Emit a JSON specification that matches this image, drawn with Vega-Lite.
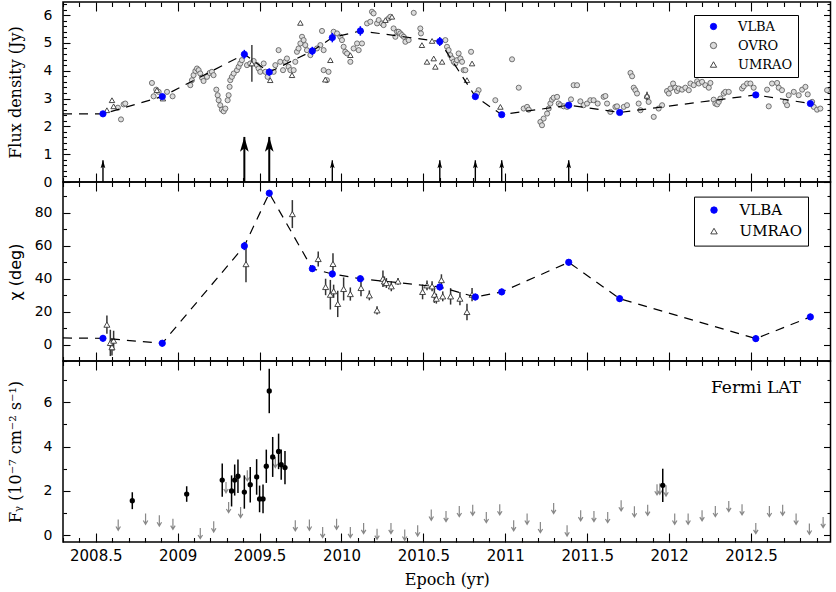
{
"$schema":"https://vega.github.io/schema/vega-lite/v6.json",
"padding":{"left":6,"top":0,"right":2,"bottom":2},
"background":"white",
"spacing":0,
"bounds":"flush",
"config":{"view":{"stroke":"#000","strokeWidth":1.5},"axis":{"labelColor":"#000","titleColor":"#000","tickColor":"#000","tickWidth":1.1,"domain":false,"grid":false}},
"resolve":{"scale":{"shape":"independent","fill":"independent","stroke":"independent"},"legend":{"shape":"independent","fill":"independent","stroke":"independent"}},
"vconcat":[
{
"width":767.5,"height":180,
"resolve":{"axis":{"x":"independent","y":"independent"}},
"encoding":{
 "x":{"field":"t","type":"quantitative","scale":{"domain":[2008.3,2012.985],"nice":false,"zero":false},"axis":null},
 "y":{"field":"v","type":"quantitative","scale":{"domain":[0,6.47],"nice":false,"zero":false},"axis":null}
},
"layer":[
 {"data":{"name":"fluxline"},"mark":{"type":"point","opacity":0},"encoding":{
   "x":{"field":"t","type":"quantitative","scale":{"domain":[2008.3,2012.985],"nice":false,"zero":false},"axis":{"orient":"bottom","values":[2008.5,2009,2009.5,2010,2010.5,2011,2011.5,2012,2012.5],"labels":false,"title":null,"tickSize":-9,"minExtent":0,"maxExtent":0}},
   "y":{"field":"v","type":"quantitative","scale":{"domain":[0,6.47],"nice":false,"zero":false},"axis":{"orient":"left","values":[0,1,2,3,4,5,6],"format":"d","ticks":false,"tickSize":0,"labelFont":"DejaVu Sans","labelFontSize":14,"labelPadding":11,"labelOverlap":false,"labelFlush":false,"title":"Flux density (Jy)","titleFont":"DejaVu Serif","titleFontSize":16,"titleFontWeight":"normal","titlePadding":12,"minExtent":28,"maxExtent":28}}}},
 {"data":{"name":"fluxline"},"mark":{"type":"point","opacity":0},"encoding":{
   "x":{"field":"t","type":"quantitative","scale":{"domain":[2008.3,2012.985],"nice":false,"zero":false},"axis":{"orient":"bottom","values":[2008.3,2008.4,2008.6,2008.7,2008.8,2008.9,2009.1,2009.2,2009.3,2009.4,2009.6,2009.7,2009.8,2009.9,2010.1,2010.2,2010.3,2010.4,2010.6,2010.7,2010.8,2010.9,2011.1,2011.2,2011.3,2011.4,2011.6,2011.7,2011.8,2011.9,2012.1,2012.2,2012.3,2012.4,2012.6,2012.7,2012.8,2012.9],"labels":false,"title":null,"tickSize":-4.5,"minExtent":0,"maxExtent":0}},
   "y":{"field":"v","type":"quantitative","scale":{"domain":[0,6.47],"nice":false,"zero":false},"axis":{"orient":"left","values":[0,1,2,3,4,5,6],"labels":false,"title":null,"tickSize":-7,"minExtent":0,"maxExtent":0}}}},
 {"data":{"name":"fluxline"},"mark":{"type":"point","opacity":0},"encoding":{
   "x":{"field":"t","type":"quantitative","scale":{"domain":[2008.3,2012.985],"nice":false,"zero":false},"axis":{"orient":"top","values":[2008.5,2009,2009.5,2010,2010.5,2011,2011.5,2012,2012.5],"labels":false,"title":null,"tickSize":-9,"minExtent":0,"maxExtent":0}},
   "y":{"field":"v","type":"quantitative","scale":{"domain":[0,6.47],"nice":false,"zero":false},"axis":{"orient":"left","values":[0.2,0.4,0.6,0.8,1.2,1.4,1.6,1.8,2.2,2.4,2.6,2.8,3.2,3.4,3.6,3.8,4.2,4.4,4.6,4.8,5.2,5.4,5.6,5.8,6.2,6.4],"labels":false,"title":null,"tickSize":-3.5,"minExtent":0,"maxExtent":0}}}},
 {"data":{"name":"fluxline"},"mark":{"type":"point","opacity":0},"encoding":{
   "x":{"field":"t","type":"quantitative","scale":{"domain":[2008.3,2012.985],"nice":false,"zero":false},"axis":{"orient":"top","values":[2008.3,2008.4,2008.6,2008.7,2008.8,2008.9,2009.1,2009.2,2009.3,2009.4,2009.6,2009.7,2009.8,2009.9,2010.1,2010.2,2010.3,2010.4,2010.6,2010.7,2010.8,2010.9,2011.1,2011.2,2011.3,2011.4,2011.6,2011.7,2011.8,2011.9,2012.1,2012.2,2012.3,2012.4,2012.6,2012.7,2012.8,2012.9],"labels":false,"title":null,"tickSize":-4.5,"minExtent":0,"maxExtent":0}},
   "y":{"field":"v","type":"quantitative","scale":{"domain":[0,6.47],"nice":false,"zero":false},"axis":{"orient":"right","values":[0,1,2,3,4,5,6],"labels":false,"title":null,"tickSize":-7,"minExtent":0,"maxExtent":0}}}},
 {"data":{"name":"fluxline"},"mark":{"type":"point","opacity":0},"encoding":{
   "y":{"field":"v","type":"quantitative","scale":{"domain":[0,6.47],"nice":false,"zero":false},"axis":{"orient":"right","values":[0.2,0.4,0.6,0.8,1.2,1.4,1.6,1.8,2.2,2.4,2.6,2.8,3.2,3.4,3.6,3.8,4.2,4.4,4.6,4.8,5.2,5.4,5.6,5.8,6.2,6.4],"labels":false,"title":null,"tickSize":-3.5,"minExtent":0,"maxExtent":0}}}},
 {"data":{"name":"ovro"},"mark":{"type":"point","filled":true,"strokeWidth":0.8,"size":26,"opacity":1},
  "encoding":{
   "shape":{"field":"src","type":"nominal","scale":{"domain":["VLBA","OVRO","UMRAO"],"range":["circle","circle","triangle-up"]},"legend":{"title":null,"orient":"none","legendX":631,"legendY":13,"strokeColor":"#000","fillColor":"#fff","padding":5,"symbolOffset":8,"labelFont":"DejaVu Serif","labelFontSize":13,"labelColor":"#000","symbolSize":40,"symbolStrokeWidth":0.9,"rowPadding":5,"labelOffset":18}},
   "fill":{"field":"src","type":"nominal","scale":{"domain":["VLBA","OVRO","UMRAO"],"range":["#0000ff","#dcdcdc","#ffffff"]},"legend":{"title":null,"orient":"none","legendX":631,"legendY":13,"strokeColor":"#000","fillColor":"#fff","padding":5,"symbolOffset":8,"labelFont":"DejaVu Serif","labelFontSize":13,"labelColor":"#000","symbolSize":40,"symbolStrokeWidth":0.9,"rowPadding":5,"labelOffset":18}},
   "stroke":{"field":"src","type":"nominal","scale":{"domain":["VLBA","OVRO","UMRAO"],"range":["#0000ff","#555555","#333333"]},"legend":{"title":null,"orient":"none","legendX":631,"legendY":13,"strokeColor":"#000","fillColor":"#fff","padding":5,"symbolOffset":8,"labelFont":"DejaVu Serif","labelFontSize":13,"labelColor":"#000","symbolSize":40,"symbolStrokeWidth":0.9,"rowPadding":5,"labelOffset":18}}
  }},
 {"data":{"name":"umrao_s"},"mark":{"type":"errorbar","color":"#222","thickness":1.3},"encoding":{"yError":{"field":"e"}}},
 {"data":{"name":"umrao_s"},"mark":{"type":"point","filled":true,"strokeWidth":0.9,"size":30,"opacity":1},
  "encoding":{
   "shape":{"field":"src","type":"nominal","scale":{"domain":["VLBA","OVRO","UMRAO"],"range":["circle","circle","triangle-up"]},"legend":{"title":null,"orient":"none","legendX":631,"legendY":13,"strokeColor":"#000","fillColor":"#fff","padding":5,"symbolOffset":8,"labelFont":"DejaVu Serif","labelFontSize":13,"labelColor":"#000","symbolSize":40,"symbolStrokeWidth":0.9,"rowPadding":5,"labelOffset":18}},
   "fill":{"field":"src","type":"nominal","scale":{"domain":["VLBA","OVRO","UMRAO"],"range":["#0000ff","#dcdcdc","#ffffff"]},"legend":{"title":null,"orient":"none","legendX":631,"legendY":13,"strokeColor":"#000","fillColor":"#fff","padding":5,"symbolOffset":8,"labelFont":"DejaVu Serif","labelFontSize":13,"labelColor":"#000","symbolSize":40,"symbolStrokeWidth":0.9,"rowPadding":5,"labelOffset":18}},
   "stroke":{"field":"src","type":"nominal","scale":{"domain":["VLBA","OVRO","UMRAO"],"range":["#0000ff","#555555","#333333"]},"legend":{"title":null,"orient":"none","legendX":631,"legendY":13,"strokeColor":"#000","fillColor":"#fff","padding":5,"symbolOffset":8,"labelFont":"DejaVu Serif","labelFontSize":13,"labelColor":"#000","symbolSize":40,"symbolStrokeWidth":0.9,"rowPadding":5,"labelOffset":18}}
  }},
 {"data":{"name":"fluxline"},"mark":{"type":"line","color":"#000","strokeWidth":1.2,"strokeDash":[9,7]}},
 {"data":{"name":"vlba_s"},"mark":{"type":"errorbar","color":"#0000ff","thickness":1.5},"encoding":{"yError":{"field":"e"}}},
 {"data":{"name":"vlba_s"},"mark":{"type":"point","filled":true,"strokeWidth":0.8,"size":40,"opacity":1},
  "encoding":{
   "shape":{"field":"src","type":"nominal","scale":{"domain":["VLBA","OVRO","UMRAO"],"range":["circle","circle","triangle-up"]},"legend":{"title":null,"orient":"none","legendX":631,"legendY":13,"strokeColor":"#000","fillColor":"#fff","padding":5,"symbolOffset":8,"labelFont":"DejaVu Serif","labelFontSize":13,"labelColor":"#000","symbolSize":40,"symbolStrokeWidth":0.9,"rowPadding":5,"labelOffset":18}},
   "fill":{"field":"src","type":"nominal","scale":{"domain":["VLBA","OVRO","UMRAO"],"range":["#0000ff","#dcdcdc","#ffffff"]},"legend":{"title":null,"orient":"none","legendX":631,"legendY":13,"strokeColor":"#000","fillColor":"#fff","padding":5,"symbolOffset":8,"labelFont":"DejaVu Serif","labelFontSize":13,"labelColor":"#000","symbolSize":40,"symbolStrokeWidth":0.9,"rowPadding":5,"labelOffset":18}},
   "stroke":{"field":"src","type":"nominal","scale":{"domain":["VLBA","OVRO","UMRAO"],"range":["#0000ff","#555555","#333333"]},"legend":{"title":null,"orient":"none","legendX":631,"legendY":13,"strokeColor":"#000","fillColor":"#fff","padding":5,"symbolOffset":8,"labelFont":"DejaVu Serif","labelFontSize":13,"labelColor":"#000","symbolSize":40,"symbolStrokeWidth":0.9,"rowPadding":5,"labelOffset":18}}
  }},
 {"data":{"name":"arrows"},"transform":[{"filter":"!datum.big"}],"mark":{"type":"rule","color":"#000","strokeWidth":1.4},"encoding":{"y2":{"datum":0}}},
 {"data":{"name":"arrows"},"transform":[{"filter":"!datum.big"}],"mark":{"type":"point","shape":"M0,0L0.5,1.7L0,1.3L-0.5,1.7Z","filled":true,"color":"#000","size":90,"opacity":1}},
 {"data":{"name":"arrows"},"transform":[{"filter":"datum.big"}],"mark":{"type":"rule","color":"#000","strokeWidth":2},"encoding":{"y2":{"datum":0}}},
 {"data":{"name":"arrows"},"transform":[{"filter":"datum.big"}],"mark":{"type":"point","shape":"M0,0L0.5,1.7L0,1.3L-0.5,1.7Z","filled":true,"color":"#000","size":300,"opacity":1}}
]
},
{
"width":767.5,"height":179,
"resolve":{"axis":{"x":"independent","y":"independent"}},
"encoding":{
 "x":{"field":"t","type":"quantitative","scale":{"domain":[2008.3,2012.985],"nice":false,"zero":false},"axis":null},
 "y":{"field":"v","type":"quantitative","scale":{"domain":[-10,98.8],"nice":false,"zero":false},"axis":null}
},
"layer":[
 {"data":{"name":"chiline"},"mark":{"type":"point","opacity":0},"encoding":{
   "x":{"field":"t","type":"quantitative","scale":{"domain":[2008.3,2012.985],"nice":false,"zero":false},"axis":{"orient":"bottom","values":[2008.5,2009,2009.5,2010,2010.5,2011,2011.5,2012,2012.5],"labels":false,"title":null,"tickSize":-9,"minExtent":0,"maxExtent":0}},
   "y":{"field":"v","type":"quantitative","scale":{"domain":[-10,98.8],"nice":false,"zero":false},"axis":{"orient":"left","values":[0,20,40,60,80],"format":"d","ticks":false,"tickSize":0,"labelFont":"DejaVu Sans","labelFontSize":14,"labelPadding":11,"labelOverlap":false,"labelFlush":false,"title":"χ (deg)","titleFont":"DejaVu Sans","titleFontSize":16,"titleFontWeight":"normal","titlePadding":12,"minExtent":28,"maxExtent":28}}}},
 {"data":{"name":"chiline"},"mark":{"type":"point","opacity":0},"encoding":{
   "x":{"field":"t","type":"quantitative","scale":{"domain":[2008.3,2012.985],"nice":false,"zero":false},"axis":{"orient":"bottom","values":[2008.3,2008.4,2008.6,2008.7,2008.8,2008.9,2009.1,2009.2,2009.3,2009.4,2009.6,2009.7,2009.8,2009.9,2010.1,2010.2,2010.3,2010.4,2010.6,2010.7,2010.8,2010.9,2011.1,2011.2,2011.3,2011.4,2011.6,2011.7,2011.8,2011.9,2012.1,2012.2,2012.3,2012.4,2012.6,2012.7,2012.8,2012.9],"labels":false,"title":null,"tickSize":-4.5,"minExtent":0,"maxExtent":0}},
   "y":{"field":"v","type":"quantitative","scale":{"domain":[-10,98.8],"nice":false,"zero":false},"axis":{"orient":"left","values":[0,20,40,60,80],"labels":false,"title":null,"tickSize":-7,"minExtent":0,"maxExtent":0}}}},
 {"data":{"name":"chiline"},"mark":{"type":"point","opacity":0},"encoding":{
   "x":{"field":"t","type":"quantitative","scale":{"domain":[2008.3,2012.985],"nice":false,"zero":false},"axis":{"orient":"top","values":[2008.5,2009,2009.5,2010,2010.5,2011,2011.5,2012,2012.5],"labels":false,"title":null,"tickSize":-9,"minExtent":0,"maxExtent":0}},
   "y":{"field":"v","type":"quantitative","scale":{"domain":[-10,98.8],"nice":false,"zero":false},"axis":{"orient":"left","values":[-10,10,30,50,70,90],"labels":false,"title":null,"tickSize":-3.5,"minExtent":0,"maxExtent":0}}}},
 {"data":{"name":"chiline"},"mark":{"type":"point","opacity":0},"encoding":{
   "x":{"field":"t","type":"quantitative","scale":{"domain":[2008.3,2012.985],"nice":false,"zero":false},"axis":{"orient":"top","values":[2008.3,2008.4,2008.6,2008.7,2008.8,2008.9,2009.1,2009.2,2009.3,2009.4,2009.6,2009.7,2009.8,2009.9,2010.1,2010.2,2010.3,2010.4,2010.6,2010.7,2010.8,2010.9,2011.1,2011.2,2011.3,2011.4,2011.6,2011.7,2011.8,2011.9,2012.1,2012.2,2012.3,2012.4,2012.6,2012.7,2012.8,2012.9],"labels":false,"title":null,"tickSize":-4.5,"minExtent":0,"maxExtent":0}},
   "y":{"field":"v","type":"quantitative","scale":{"domain":[-10,98.8],"nice":false,"zero":false},"axis":{"orient":"right","values":[0,20,40,60,80],"labels":false,"title":null,"tickSize":-7,"minExtent":0,"maxExtent":0}}}},
 {"data":{"name":"chiline"},"mark":{"type":"point","opacity":0},"encoding":{
   "y":{"field":"v","type":"quantitative","scale":{"domain":[-10,98.8],"nice":false,"zero":false},"axis":{"orient":"right","values":[-10,10,30,50,70,90],"labels":false,"title":null,"tickSize":-3.5,"minExtent":0,"maxExtent":0}}}},
 {"data":{"name":"umrao_chi"},"mark":{"type":"errorbar","color":"#333","thickness":1.5},"encoding":{"yError":{"field":"e"}}},
 {"data":{"name":"umrao_chi"},"mark":{"type":"point","filled":true,"strokeWidth":0.9,"size":36,"opacity":1},
  "encoding":{
   "shape":{"field":"src","type":"nominal","scale":{"domain":["VLBA","UMRAO"],"range":["circle","triangle-up"]},"legend":{"title":null,"orient":"none","legendX":631,"legendY":14.6,"strokeColor":"#000","fillColor":"#fff","padding":6,"symbolOffset":6.5,"labelFont":"DejaVu Serif","labelFontSize":15,"labelColor":"#000","symbolSize":42,"symbolStrokeWidth":0.9,"rowPadding":5,"labelOffset":18}},
   "fill":{"field":"src","type":"nominal","scale":{"domain":["VLBA","UMRAO"],"range":["#0000ff","#ffffff"]},"legend":{"title":null,"orient":"none","legendX":631,"legendY":14.6,"strokeColor":"#000","fillColor":"#fff","padding":6,"symbolOffset":6.5,"labelFont":"DejaVu Serif","labelFontSize":15,"labelColor":"#000","symbolSize":42,"symbolStrokeWidth":0.9,"rowPadding":5,"labelOffset":18}},
   "stroke":{"field":"src","type":"nominal","scale":{"domain":["VLBA","UMRAO"],"range":["#0000ff","#333333"]},"legend":{"title":null,"orient":"none","legendX":631,"legendY":14.6,"strokeColor":"#000","fillColor":"#fff","padding":6,"symbolOffset":6.5,"labelFont":"DejaVu Serif","labelFontSize":15,"labelColor":"#000","symbolSize":42,"symbolStrokeWidth":0.9,"rowPadding":5,"labelOffset":18}}
  }},
 {"data":{"name":"chiline"},"mark":{"type":"line","color":"#000","strokeWidth":1.2,"strokeDash":[9,7]}},
 {"data":{"name":"vlba_chi"},"mark":{"type":"errorbar","color":"#0000ff","thickness":1.5},"encoding":{"yError":{"field":"e"}}},
 {"data":{"name":"vlba_chi"},"mark":{"type":"point","filled":true,"strokeWidth":0.8,"size":40,"opacity":1},
  "encoding":{
   "shape":{"field":"src","type":"nominal","scale":{"domain":["VLBA","UMRAO"],"range":["circle","triangle-up"]},"legend":{"title":null,"orient":"none","legendX":631,"legendY":14.6,"strokeColor":"#000","fillColor":"#fff","padding":6,"symbolOffset":6.5,"labelFont":"DejaVu Serif","labelFontSize":15,"labelColor":"#000","symbolSize":42,"symbolStrokeWidth":0.9,"rowPadding":5,"labelOffset":18}},
   "fill":{"field":"src","type":"nominal","scale":{"domain":["VLBA","UMRAO"],"range":["#0000ff","#ffffff"]},"legend":{"title":null,"orient":"none","legendX":631,"legendY":14.6,"strokeColor":"#000","fillColor":"#fff","padding":6,"symbolOffset":6.5,"labelFont":"DejaVu Serif","labelFontSize":15,"labelColor":"#000","symbolSize":42,"symbolStrokeWidth":0.9,"rowPadding":5,"labelOffset":18}},
   "stroke":{"field":"src","type":"nominal","scale":{"domain":["VLBA","UMRAO"],"range":["#0000ff","#333333"]},"legend":{"title":null,"orient":"none","legendX":631,"legendY":14.6,"strokeColor":"#000","fillColor":"#fff","padding":6,"symbolOffset":6.5,"labelFont":"DejaVu Serif","labelFontSize":15,"labelColor":"#000","symbolSize":42,"symbolStrokeWidth":0.9,"rowPadding":5,"labelOffset":18}}
  }}
]
},
{
"width":767.5,"height":181,
"resolve":{"axis":{"x":"independent","y":"independent"}},
"encoding":{
 "x":{"field":"t","type":"quantitative","scale":{"domain":[2008.3,2012.985],"nice":false,"zero":false},"axis":null},
 "y":{"field":"v","type":"quantitative","scale":{"domain":[-0.3,7.85],"nice":false,"zero":false},"axis":null}
},
"layer":[
 {"data":{"name":"lat"},"mark":{"type":"point","opacity":0},"encoding":{
   "x":{"field":"t","type":"quantitative","scale":{"domain":[2008.3,2012.985],"nice":false,"zero":false},"axis":{"orient":"bottom","values":[2008.5,2009,2009.5,2010,2010.5,2011,2011.5,2012,2012.5],"format":".1~f","ticks":false,"tickSize":0,"labelFont":"DejaVu Sans","labelFontSize":15,"labelPadding":6,"labelOverlap":false,"labelFlush":false,"labelBound":false,"title":"Epoch (yr)","titleFont":"DejaVu Serif","titleFontSize":16,"titleFontWeight":"normal","titlePadding":8}},
   "y":{"field":"v","type":"quantitative","scale":{"domain":[-0.3,7.85],"nice":false,"zero":false},"axis":{"orient":"left","values":[0,2,4,6],"format":"d","ticks":false,"tickSize":0,"labelFont":"DejaVu Sans","labelFontSize":14,"labelPadding":11,"labelOverlap":false,"labelFlush":false,"title":"Fᵧ (10⁻⁷ cm⁻² s⁻¹)","titleFont":"DejaVu Serif","titleFontSize":16,"titleFontWeight":"normal","titlePadding":12,"minExtent":28,"maxExtent":28}}}},
 {"data":{"name":"lat"},"mark":{"type":"point","opacity":0},"encoding":{
   "x":{"field":"t","type":"quantitative","scale":{"domain":[2008.3,2012.985],"nice":false,"zero":false},"axis":{"orient":"bottom","values":[2008.5,2009,2009.5,2010,2010.5,2011,2011.5,2012,2012.5],"labels":false,"title":null,"tickSize":-9,"minExtent":0,"maxExtent":0}},
   "y":{"field":"v","type":"quantitative","scale":{"domain":[-0.3,7.85],"nice":false,"zero":false},"axis":{"orient":"left","values":[0,2,4,6],"labels":false,"title":null,"tickSize":-7,"minExtent":0,"maxExtent":0}}}},
 {"data":{"name":"lat"},"mark":{"type":"point","opacity":0},"encoding":{
   "x":{"field":"t","type":"quantitative","scale":{"domain":[2008.3,2012.985],"nice":false,"zero":false},"axis":{"orient":"bottom","values":[2008.3,2008.4,2008.6,2008.7,2008.8,2008.9,2009.1,2009.2,2009.3,2009.4,2009.6,2009.7,2009.8,2009.9,2010.1,2010.2,2010.3,2010.4,2010.6,2010.7,2010.8,2010.9,2011.1,2011.2,2011.3,2011.4,2011.6,2011.7,2011.8,2011.9,2012.1,2012.2,2012.3,2012.4,2012.6,2012.7,2012.8,2012.9],"labels":false,"title":null,"tickSize":-4.5,"minExtent":0,"maxExtent":0}},
   "y":{"field":"v","type":"quantitative","scale":{"domain":[-0.3,7.85],"nice":false,"zero":false},"axis":{"orient":"left","values":[1,3,5,7],"labels":false,"title":null,"tickSize":-3.5,"minExtent":0,"maxExtent":0}}}},
 {"data":{"name":"lat"},"mark":{"type":"point","opacity":0},"encoding":{
   "x":{"field":"t","type":"quantitative","scale":{"domain":[2008.3,2012.985],"nice":false,"zero":false},"axis":{"orient":"top","values":[2008.5,2009,2009.5,2010,2010.5,2011,2011.5,2012,2012.5],"labels":false,"title":null,"tickSize":-9,"minExtent":0,"maxExtent":0}},
   "y":{"field":"v","type":"quantitative","scale":{"domain":[-0.3,7.85],"nice":false,"zero":false},"axis":{"orient":"right","values":[0,2,4,6],"labels":false,"title":null,"tickSize":-7,"minExtent":0,"maxExtent":0}}}},
 {"data":{"name":"lat"},"mark":{"type":"point","opacity":0},"encoding":{
   "x":{"field":"t","type":"quantitative","scale":{"domain":[2008.3,2012.985],"nice":false,"zero":false},"axis":{"orient":"top","values":[2008.3,2008.4,2008.6,2008.7,2008.8,2008.9,2009.1,2009.2,2009.3,2009.4,2009.6,2009.7,2009.8,2009.9,2010.1,2010.2,2010.3,2010.4,2010.6,2010.7,2010.8,2010.9,2011.1,2011.2,2011.3,2011.4,2011.6,2011.7,2011.8,2011.9,2012.1,2012.2,2012.3,2012.4,2012.6,2012.7,2012.8,2012.9],"labels":false,"title":null,"tickSize":-4.5,"minExtent":0,"maxExtent":0}},
   "y":{"field":"v","type":"quantitative","scale":{"domain":[-0.3,7.85],"nice":false,"zero":false},"axis":{"orient":"right","values":[1,3,5,7],"labels":false,"title":null,"tickSize":-3.5,"minExtent":0,"maxExtent":0}}}},
 {"data":{"name":"ul"},"mark":{"type":"point","shape":"M0,0L0,2M-0.42,1.3L0,2L0.42,1.3","filled":false,"color":"#888","strokeWidth":1.2,"size":114,"opacity":1}},
 {"data":{"name":"lat"},"mark":{"type":"errorbar","color":"#000","thickness":1.5},"encoding":{"yError":{"field":"e"}}},
 {"data":{"name":"lat"},"mark":{"type":"point","filled":true,"color":"#000","size":28,"opacity":1}},
 {"data":{"name":"labels"},"mark":{"type":"text","font":"DejaVu Serif","fontSize":17,"color":"#000","align":"center","baseline":"middle"},
  "encoding":{"text":{"field":"label","type":"nominal"}}}
]
}
],
"datasets":{
"labels":[{"label":"Fermi LAT","t":2012.53,"v":6.62}],
"fluxline":[{"t":2008.3,"v":2.45},{"t":2008.544,"v":2.45},{"t":2008.906,"v":3.07},{"t":2009.407,"v":4.59},{"t":2009.559,"v":3.95},{"t":2009.822,"v":4.71},{"t":2009.944,"v":5.19},{"t":2010.115,"v":5.43},{"t":2010.6,"v":5.05},{"t":2010.817,"v":3.07},{"t":2010.978,"v":2.42},{"t":2011.387,"v":2.76},{"t":2011.698,"v":2.5},{"t":2012.529,"v":3.13},{"t":2012.862,"v":2.82}],
"vlba_s":[{"t":2008.544,"v":2.45,"e":0.08,"src":"VLBA"},{"t":2008.906,"v":3.07,"e":0.1,"src":"VLBA"},{"t":2009.407,"v":4.59,"e":0.16,"src":"VLBA"},{"t":2009.559,"v":3.95,"e":0.13,"src":"VLBA"},{"t":2009.822,"v":4.71,"e":0.15,"src":"VLBA"},{"t":2009.944,"v":5.19,"e":0.17,"src":"VLBA"},{"t":2010.115,"v":5.43,"e":0.17,"src":"VLBA"},{"t":2010.6,"v":5.05,"e":0.16,"src":"VLBA"},{"t":2010.817,"v":3.07,"e":0.1,"src":"VLBA"},{"t":2010.978,"v":2.42,"e":0.08,"src":"VLBA"},{"t":2011.387,"v":2.76,"e":0.09,"src":"VLBA"},{"t":2011.698,"v":2.5,"e":0.08,"src":"VLBA"},{"t":2012.529,"v":3.13,"e":0.1,"src":"VLBA"},{"t":2012.862,"v":2.82,"e":0.09,"src":"VLBA"}],
"arrows":[{"t":2008.544,"v":0.78,"big":false},{"t":2009.407,"v":1.62,"big":true},{"t":2009.559,"v":1.62,"big":true},{"t":2009.944,"v":0.78,"big":false},{"t":2010.6,"v":0.78,"big":false},{"t":2010.817,"v":0.78,"big":false},{"t":2010.978,"v":0.78,"big":false},{"t":2011.387,"v":0.78,"big":false}],
"umrao_s":[{"t":2008.568,"v":2.58,"e":0,"src":"UMRAO"},{"t":2008.599,"v":2.94,"e":0,"src":"UMRAO"},{"t":2008.609,"v":2.72,"e":0,"src":"UMRAO"},{"t":2008.873,"v":3.3,"e":0,"src":"UMRAO"},{"t":2008.91,"v":3.0,"e":0,"src":"UMRAO"},{"t":2009.453,"v":4.26,"e":0.66,"src":"UMRAO"},{"t":2009.565,"v":3.66,"e":0,"src":"UMRAO"},{"t":2009.698,"v":3.84,"e":0,"src":"UMRAO"},{"t":2009.749,"v":5.72,"e":0,"src":"UMRAO"},{"t":2009.901,"v":3.68,"e":0,"src":"UMRAO"},{"t":2009.932,"v":4.38,"e":0,"src":"UMRAO"},{"t":2010.054,"v":4.56,"e":0,"src":"UMRAO"},{"t":2010.268,"v":5.82,"e":0,"src":"UMRAO"},{"t":2010.308,"v":5.94,"e":0,"src":"UMRAO"},{"t":2010.491,"v":4.92,"e":0,"src":"UMRAO"},{"t":2010.522,"v":4.32,"e":0,"src":"UMRAO"},{"t":2010.553,"v":5.07,"e":0,"src":"UMRAO"},{"t":2010.563,"v":4.44,"e":0,"src":"UMRAO"},{"t":2010.573,"v":4.14,"e":0,"src":"UMRAO"},{"t":2010.614,"v":4.32,"e":0,"src":"UMRAO"},{"t":2010.766,"v":3.66,"e":0,"src":"UMRAO"},{"t":2010.797,"v":4.26,"e":0,"src":"UMRAO"},{"t":2010.97,"v":2.7,"e":0,"src":"UMRAO"},{"t":2011.865,"v":3.1,"e":0.14,"src":"UMRAO"}],
"ovro":[{"t":2008.635,"v":2.67,"src":"OVRO"},{"t":2008.67,"v":2.79,"src":"OVRO"},{"t":2008.654,"v":2.25,"src":"OVRO"},{"t":2008.68,"v":2.82,"src":"OVRO"},{"t":2008.843,"v":3.56,"src":"OVRO"},{"t":2008.869,"v":3.32,"src":"OVRO"},{"t":2008.853,"v":3.08,"src":"OVRO"},{"t":2008.884,"v":3.24,"src":"OVRO"},{"t":2008.935,"v":3.24,"src":"OVRO"},{"t":2008.969,"v":3.08,"src":"OVRO"},{"t":2009.077,"v":3.48,"src":"OVRO"},{"t":2009.087,"v":3.66,"src":"OVRO"},{"t":2009.097,"v":3.84,"src":"OVRO"},{"t":2009.108,"v":3.99,"src":"OVRO"},{"t":2009.118,"v":4.08,"src":"OVRO"},{"t":2009.128,"v":4.02,"src":"OVRO"},{"t":2009.138,"v":3.9,"src":"OVRO"},{"t":2009.148,"v":3.75,"src":"OVRO"},{"t":2009.158,"v":3.63,"src":"OVRO"},{"t":2009.179,"v":3.78,"src":"OVRO"},{"t":2009.195,"v":3.92,"src":"OVRO"},{"t":2009.209,"v":3.96,"src":"OVRO"},{"t":2009.219,"v":3.84,"src":"OVRO"},{"t":2009.236,"v":3.32,"src":"OVRO"},{"t":2009.244,"v":3.12,"src":"OVRO"},{"t":2009.25,"v":2.94,"src":"OVRO"},{"t":2009.26,"v":2.76,"src":"OVRO"},{"t":2009.27,"v":2.6,"src":"OVRO"},{"t":2009.281,"v":2.54,"src":"OVRO"},{"t":2009.291,"v":2.64,"src":"OVRO"},{"t":2009.305,"v":2.94,"src":"OVRO"},{"t":2009.311,"v":3.12,"src":"OVRO"},{"t":2009.317,"v":3.42,"src":"OVRO"},{"t":2009.321,"v":3.66,"src":"OVRO"},{"t":2009.331,"v":3.78,"src":"OVRO"},{"t":2009.342,"v":3.9,"src":"OVRO"},{"t":2009.362,"v":4.02,"src":"OVRO"},{"t":2009.372,"v":4.14,"src":"OVRO"},{"t":2009.382,"v":4.26,"src":"OVRO"},{"t":2009.392,"v":4.38,"src":"OVRO"},{"t":2009.423,"v":4.2,"src":"OVRO"},{"t":2009.443,"v":4.26,"src":"OVRO"},{"t":2009.464,"v":4.35,"src":"OVRO"},{"t":2009.484,"v":4.2,"src":"OVRO"},{"t":2009.494,"v":4.08,"src":"OVRO"},{"t":2009.504,"v":3.96,"src":"OVRO"},{"t":2009.525,"v":4.26,"src":"OVRO"},{"t":2009.535,"v":3.96,"src":"OVRO"},{"t":2009.549,"v":3.78,"src":"OVRO"},{"t":2009.586,"v":3.96,"src":"OVRO"},{"t":2009.596,"v":4.2,"src":"OVRO"},{"t":2009.616,"v":4.74,"src":"OVRO"},{"t":2009.626,"v":4.32,"src":"OVRO"},{"t":2009.643,"v":4.02,"src":"OVRO"},{"t":2009.657,"v":4.32,"src":"OVRO"},{"t":2009.667,"v":4.44,"src":"OVRO"},{"t":2009.677,"v":4.14,"src":"OVRO"},{"t":2009.688,"v":4.02,"src":"OVRO"},{"t":2009.708,"v":4.02,"src":"OVRO"},{"t":2009.718,"v":4.32,"src":"OVRO"},{"t":2009.728,"v":4.68,"src":"OVRO"},{"t":2009.738,"v":4.8,"src":"OVRO"},{"t":2009.749,"v":4.98,"src":"OVRO"},{"t":2009.759,"v":5.22,"src":"OVRO"},{"t":2009.769,"v":5.1,"src":"OVRO"},{"t":2009.779,"v":4.92,"src":"OVRO"},{"t":2009.789,"v":4.74,"src":"OVRO"},{"t":2009.81,"v":4.56,"src":"OVRO"},{"t":2009.85,"v":4.8,"src":"OVRO"},{"t":2009.871,"v":4.92,"src":"OVRO"},{"t":2009.881,"v":5.43,"src":"OVRO"},{"t":2009.891,"v":4.74,"src":"OVRO"},{"t":2009.891,"v":4.02,"src":"OVRO"},{"t":2009.911,"v":3.66,"src":"OVRO"},{"t":2009.921,"v":3.96,"src":"OVRO"},{"t":2009.952,"v":5.4,"src":"OVRO"},{"t":2009.973,"v":5.34,"src":"OVRO"},{"t":2009.993,"v":5.22,"src":"OVRO"},{"t":2010.003,"v":5.1,"src":"OVRO"},{"t":2010.013,"v":4.86,"src":"OVRO"},{"t":2010.023,"v":4.68,"src":"OVRO"},{"t":2010.034,"v":4.62,"src":"OVRO"},{"t":2010.054,"v":4.32,"src":"OVRO"},{"t":2010.074,"v":4.8,"src":"OVRO"},{"t":2010.095,"v":4.98,"src":"OVRO"},{"t":2010.105,"v":4.74,"src":"OVRO"},{"t":2010.125,"v":4.98,"src":"OVRO"},{"t":2010.156,"v":5.7,"src":"OVRO"},{"t":2010.176,"v":5.76,"src":"OVRO"},{"t":2010.186,"v":6.12,"src":"OVRO"},{"t":2010.196,"v":6.06,"src":"OVRO"},{"t":2010.217,"v":5.7,"src":"OVRO"},{"t":2010.227,"v":5.82,"src":"OVRO"},{"t":2010.247,"v":5.7,"src":"OVRO"},{"t":2010.257,"v":5.64,"src":"OVRO"},{"t":2010.288,"v":5.88,"src":"OVRO"},{"t":2010.298,"v":5.94,"src":"OVRO"},{"t":2010.318,"v":5.52,"src":"OVRO"},{"t":2010.329,"v":5.22,"src":"OVRO"},{"t":2010.339,"v":5.4,"src":"OVRO"},{"t":2010.349,"v":5.4,"src":"OVRO"},{"t":2010.359,"v":5.34,"src":"OVRO"},{"t":2010.369,"v":5.28,"src":"OVRO"},{"t":2010.38,"v":5.22,"src":"OVRO"},{"t":2010.39,"v":5.04,"src":"OVRO"},{"t":2010.41,"v":5.1,"src":"OVRO"},{"t":2010.441,"v":6.08,"src":"OVRO"},{"t":2010.481,"v":5.52,"src":"OVRO"},{"t":2010.485,"v":5.34,"src":"OVRO"},{"t":2010.634,"v":5.1,"src":"OVRO"},{"t":2010.644,"v":4.86,"src":"OVRO"},{"t":2010.654,"v":4.74,"src":"OVRO"},{"t":2010.664,"v":4.56,"src":"OVRO"},{"t":2010.675,"v":4.44,"src":"OVRO"},{"t":2010.685,"v":4.32,"src":"OVRO"},{"t":2010.695,"v":4.26,"src":"OVRO"},{"t":2010.705,"v":4.38,"src":"OVRO"},{"t":2010.715,"v":4.62,"src":"OVRO"},{"t":2010.726,"v":4.44,"src":"OVRO"},{"t":2010.736,"v":4.32,"src":"OVRO"},{"t":2010.746,"v":4.02,"src":"OVRO"},{"t":2010.756,"v":4.02,"src":"OVRO"},{"t":2010.791,"v":4.68,"src":"OVRO"},{"t":2010.837,"v":3.3,"src":"OVRO"},{"t":2010.827,"v":3.18,"src":"OVRO"},{"t":2010.939,"v":2.94,"src":"OVRO"},{"t":2011.041,"v":4.41,"src":"OVRO"},{"t":2011.082,"v":3.39,"src":"OVRO"},{"t":2011.112,"v":2.64,"src":"OVRO"},{"t":2011.133,"v":2.7,"src":"OVRO"},{"t":2011.143,"v":2.6,"src":"OVRO"},{"t":2011.214,"v":2.16,"src":"OVRO"},{"t":2011.224,"v":2.04,"src":"OVRO"},{"t":2011.234,"v":2.28,"src":"OVRO"},{"t":2011.255,"v":2.46,"src":"OVRO"},{"t":2011.265,"v":2.64,"src":"OVRO"},{"t":2011.275,"v":2.82,"src":"OVRO"},{"t":2011.285,"v":2.96,"src":"OVRO"},{"t":2011.295,"v":3.03,"src":"OVRO"},{"t":2011.316,"v":3.06,"src":"OVRO"},{"t":2011.326,"v":2.82,"src":"OVRO"},{"t":2011.336,"v":2.76,"src":"OVRO"},{"t":2011.356,"v":2.72,"src":"OVRO"},{"t":2011.377,"v":2.7,"src":"OVRO"},{"t":2011.401,"v":2.97,"src":"OVRO"},{"t":2011.417,"v":3.48,"src":"OVRO"},{"t":2011.438,"v":3.48,"src":"OVRO"},{"t":2011.458,"v":2.9,"src":"OVRO"},{"t":2011.478,"v":2.76,"src":"OVRO"},{"t":2011.499,"v":2.82,"src":"OVRO"},{"t":2011.519,"v":2.94,"src":"OVRO"},{"t":2011.539,"v":2.94,"src":"OVRO"},{"t":2011.564,"v":2.82,"src":"OVRO"},{"t":2011.6,"v":3.06,"src":"OVRO"},{"t":2011.611,"v":3.09,"src":"OVRO"},{"t":2011.621,"v":2.82,"src":"OVRO"},{"t":2011.641,"v":2.52,"src":"OVRO"},{"t":2011.672,"v":2.7,"src":"OVRO"},{"t":2011.682,"v":2.72,"src":"OVRO"},{"t":2011.723,"v":2.7,"src":"OVRO"},{"t":2011.743,"v":2.76,"src":"OVRO"},{"t":2011.764,"v":3.92,"src":"OVRO"},{"t":2011.774,"v":3.8,"src":"OVRO"},{"t":2011.784,"v":3.39,"src":"OVRO"},{"t":2011.794,"v":3.3,"src":"OVRO"},{"t":2011.804,"v":3.18,"src":"OVRO"},{"t":2011.814,"v":2.82,"src":"OVRO"},{"t":2011.825,"v":2.58,"src":"OVRO"},{"t":2011.865,"v":3.06,"src":"OVRO"},{"t":2011.875,"v":2.88,"src":"OVRO"},{"t":2011.906,"v":2.34,"src":"OVRO"},{"t":2011.936,"v":2.64,"src":"OVRO"},{"t":2011.957,"v":2.76,"src":"OVRO"},{"t":2011.987,"v":3.27,"src":"OVRO"},{"t":2011.998,"v":3.18,"src":"OVRO"},{"t":2012.008,"v":3.36,"src":"OVRO"},{"t":2012.024,"v":3.54,"src":"OVRO"},{"t":2012.038,"v":3.39,"src":"OVRO"},{"t":2012.048,"v":3.27,"src":"OVRO"},{"t":2012.059,"v":3.36,"src":"OVRO"},{"t":2012.079,"v":3.32,"src":"OVRO"},{"t":2012.099,"v":3.39,"src":"OVRO"},{"t":2012.12,"v":3.3,"src":"OVRO"},{"t":2012.13,"v":3.54,"src":"OVRO"},{"t":2012.15,"v":3.48,"src":"OVRO"},{"t":2012.171,"v":3.62,"src":"OVRO"},{"t":2012.181,"v":3.54,"src":"OVRO"},{"t":2012.201,"v":3.6,"src":"OVRO"},{"t":2012.221,"v":3.48,"src":"OVRO"},{"t":2012.242,"v":3.39,"src":"OVRO"},{"t":2012.252,"v":3.56,"src":"OVRO"},{"t":2012.272,"v":2.96,"src":"OVRO"},{"t":2012.282,"v":2.82,"src":"OVRO"},{"t":2012.293,"v":2.79,"src":"OVRO"},{"t":2012.303,"v":2.88,"src":"OVRO"},{"t":2012.313,"v":3.0,"src":"OVRO"},{"t":2012.333,"v":3.18,"src":"OVRO"},{"t":2012.343,"v":3.24,"src":"OVRO"},{"t":2012.364,"v":3.24,"src":"OVRO"},{"t":2012.445,"v":3.36,"src":"OVRO"},{"t":2012.455,"v":3.44,"src":"OVRO"},{"t":2012.476,"v":3.54,"src":"OVRO"},{"t":2012.496,"v":3.54,"src":"OVRO"},{"t":2012.516,"v":3.39,"src":"OVRO"},{"t":2012.598,"v":3.32,"src":"OVRO"},{"t":2012.608,"v":2.72,"src":"OVRO"},{"t":2012.628,"v":3.54,"src":"OVRO"},{"t":2012.659,"v":3.56,"src":"OVRO"},{"t":2012.669,"v":3.39,"src":"OVRO"},{"t":2012.689,"v":3.3,"src":"OVRO"},{"t":2012.71,"v":2.88,"src":"OVRO"},{"t":2012.72,"v":2.76,"src":"OVRO"},{"t":2012.73,"v":3.12,"src":"OVRO"},{"t":2012.761,"v":3.24,"src":"OVRO"},{"t":2012.791,"v":3.12,"src":"OVRO"},{"t":2012.812,"v":3.32,"src":"OVRO"},{"t":2012.832,"v":3.42,"src":"OVRO"},{"t":2012.846,"v":3.15,"src":"OVRO"},{"t":2012.873,"v":2.88,"src":"OVRO"},{"t":2012.883,"v":2.7,"src":"OVRO"},{"t":2012.903,"v":2.6,"src":"OVRO"},{"t":2012.923,"v":2.64,"src":"OVRO"},{"t":2012.964,"v":3.3,"src":"OVRO"}],
"chiline":[{"t":2008.3,"v":4.0},{"t":2008.544,"v":3.8},{"t":2008.906,"v":0.8},{"t":2009.407,"v":59.9},{"t":2009.559,"v":92.0},{"t":2009.822,"v":46.1},{"t":2009.944,"v":42.9},{"t":2010.115,"v":40.0},{"t":2010.6,"v":35.0},{"t":2010.817,"v":28.9},{"t":2010.978,"v":32.0},{"t":2011.387,"v":50.0},{"t":2011.698,"v":27.9},{"t":2012.529,"v":3.6},{"t":2012.862,"v":16.8}],
"vlba_chi":[{"t":2008.544,"v":3.8,"e":2,"src":"VLBA"},{"t":2008.906,"v":0.8,"e":2,"src":"VLBA"},{"t":2009.407,"v":59.9,"e":2.5,"src":"VLBA"},{"t":2009.559,"v":92.0,"e":2,"src":"VLBA"},{"t":2009.822,"v":46.1,"e":2,"src":"VLBA"},{"t":2009.944,"v":42.9,"e":2,"src":"VLBA"},{"t":2010.115,"v":40.0,"e":2,"src":"VLBA"},{"t":2010.6,"v":35.0,"e":2,"src":"VLBA"},{"t":2010.817,"v":28.9,"e":2,"src":"VLBA"},{"t":2010.978,"v":32.0,"e":2,"src":"VLBA"},{"t":2011.387,"v":50.0,"e":2,"src":"VLBA"},{"t":2011.698,"v":27.9,"e":2,"src":"VLBA"},{"t":2012.529,"v":3.6,"e":2,"src":"VLBA"},{"t":2012.862,"v":16.8,"e":2,"src":"VLBA"}],
"umrao_chi":[{"t":2008.568,"v":12.1,"e":5.5,"src":"UMRAO"},{"t":2008.589,"v":1.0,"e":8,"src":"UMRAO"},{"t":2008.609,"v":2.4,"e":6,"src":"UMRAO"},{"t":2008.599,"v":-1.6,"e":5,"src":"UMRAO"},{"t":2009.417,"v":48.9,"e":11,"src":"UMRAO"},{"t":2009.7,"v":79.3,"e":8.5,"src":"UMRAO"},{"t":2009.858,"v":52.0,"e":4.5,"src":"UMRAO"},{"t":2009.903,"v":35.0,"e":5,"src":"UMRAO"},{"t":2009.932,"v":30.3,"e":9,"src":"UMRAO"},{"t":2009.948,"v":49.0,"e":6.5,"src":"UMRAO"},{"t":2009.952,"v":32.4,"e":4,"src":"UMRAO"},{"t":2009.977,"v":24.7,"e":8,"src":"UMRAO"},{"t":2010.013,"v":33.8,"e":7,"src":"UMRAO"},{"t":2010.054,"v":30.7,"e":4,"src":"UMRAO"},{"t":2010.119,"v":34.4,"e":5,"src":"UMRAO"},{"t":2010.17,"v":29.9,"e":3,"src":"UMRAO"},{"t":2010.217,"v":20.8,"e":2.5,"src":"UMRAO"},{"t":2010.253,"v":40.0,"e":5,"src":"UMRAO"},{"t":2010.262,"v":38.4,"e":3,"src":"UMRAO"},{"t":2010.274,"v":37.4,"e":3,"src":"UMRAO"},{"t":2010.304,"v":35.4,"e":3,"src":"UMRAO"},{"t":2010.345,"v":38.4,"e":2,"src":"UMRAO"},{"t":2010.495,"v":32.0,"e":4.5,"src":"UMRAO"},{"t":2010.522,"v":36.0,"e":3,"src":"UMRAO"},{"t":2010.553,"v":35.4,"e":3,"src":"UMRAO"},{"t":2010.567,"v":30.3,"e":5,"src":"UMRAO"},{"t":2010.579,"v":27.9,"e":3,"src":"UMRAO"},{"t":2010.61,"v":39.2,"e":3.5,"src":"UMRAO"},{"t":2010.618,"v":29.3,"e":3,"src":"UMRAO"},{"t":2010.666,"v":29.3,"e":5,"src":"UMRAO"},{"t":2010.723,"v":27.9,"e":4,"src":"UMRAO"},{"t":2010.766,"v":19.8,"e":5,"src":"UMRAO"},{"t":2010.797,"v":30.3,"e":4,"src":"UMRAO"}],
"lat":[{"t":2008.723,"v":1.56,"e":0.38},{"t":2009.055,"v":1.86,"e":0.35},{"t":2009.272,"v":2.49,"e":0.75},{"t":2009.329,"v":2.0,"e":0.7},{"t":2009.348,"v":2.49,"e":0.7},{"t":2009.368,"v":2.66,"e":0.75},{"t":2009.407,"v":1.95,"e":0.75},{"t":2009.443,"v":2.28,"e":0.8},{"t":2009.482,"v":2.63,"e":0.8},{"t":2009.5,"v":1.64,"e":0.6},{"t":2009.521,"v":1.64,"e":0.65},{"t":2009.541,"v":3.11,"e":0.75},{"t":2009.559,"v":6.5,"e":1.0},{"t":2009.58,"v":3.53,"e":0.9},{"t":2009.616,"v":3.78,"e":0.8},{"t":2009.632,"v":3.18,"e":0.68},{"t":2009.655,"v":3.05,"e":0.75},{"t":2011.961,"v":2.25,"e":0.75}],
"ul":[{"t":2008.637,"v":0.71},{"t":2008.804,"v":0.98},{"t":2008.888,"v":0.9},{"t":2008.971,"v":0.75},{"t":2009.138,"v":0.33},{"t":2009.22,"v":0.63},{"t":2009.295,"v":2.4},{"t":2009.311,"v":1.5},{"t":2009.384,"v":1.28},{"t":2009.425,"v":2.93},{"t":2009.596,"v":3.53},{"t":2009.718,"v":0.68},{"t":2009.804,"v":0.71},{"t":2009.885,"v":0.38},{"t":2009.97,"v":0.75},{"t":2010.054,"v":0.38},{"t":2010.135,"v":0.56},{"t":2010.217,"v":0.3},{"t":2010.302,"v":0.56},{"t":2010.386,"v":0.26},{"t":2010.465,"v":0.45},{"t":2010.548,"v":1.16},{"t":2010.638,"v":1.1},{"t":2010.719,"v":1.32},{"t":2010.801,"v":1.38},{"t":2010.884,"v":1.05},{"t":2010.966,"v":1.4},{"t":2011.051,"v":0.68},{"t":2011.133,"v":0.98},{"t":2011.214,"v":0.6},{"t":2011.295,"v":1.46},{"t":2011.377,"v":0.45},{"t":2011.46,"v":1.13},{"t":2011.541,"v":1.1},{"t":2011.625,"v":1.05},{"t":2011.707,"v":1.58},{"t":2011.788,"v":1.31},{"t":2011.869,"v":1.38},{"t":2011.926,"v":2.3},{"t":2011.943,"v":2.33},{"t":2011.981,"v":2.25},{"t":2012.034,"v":0.98},{"t":2012.116,"v":0.98},{"t":2012.201,"v":1.13},{"t":2012.282,"v":1.32},{"t":2012.364,"v":1.55},{"t":2012.445,"v":1.4},{"t":2012.529,"v":0.56},{"t":2012.612,"v":1.32},{"t":2012.693,"v":1.38},{"t":2012.775,"v":0.98},{"t":2012.856,"v":0.53},{"t":2012.94,"v":0.83}]
}
}
